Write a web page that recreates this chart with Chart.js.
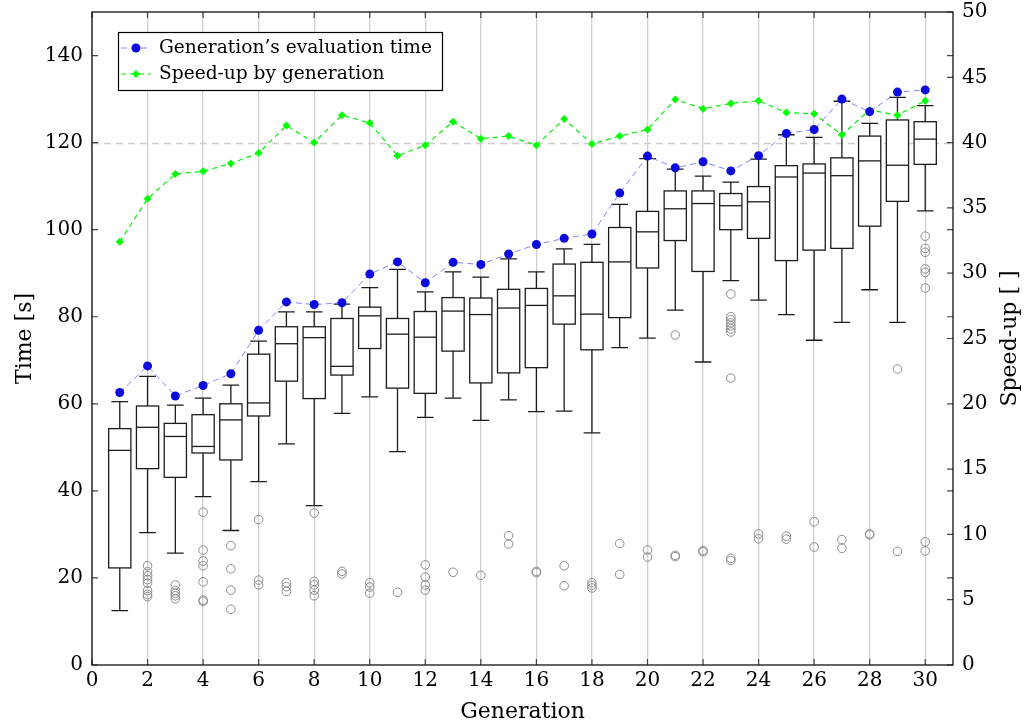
<!DOCTYPE html>
<html><head><meta charset="utf-8">
<script src="https://cdn.jsdelivr.net/npm/chart.js@4.4.1/dist/chart.umd.min.js"></script>
<style>html,body{margin:0;padding:0;background:#fff}#wrap{width:1027px;height:726px}</style>
</head><body><div id="wrap"><canvas id="c" width="1027" height="726"></canvas></div>
<script>
const gens = [1,2,3,4,5,6,7,8,9,10,11,12,13,14,15,16,17,18,19,20,21,22,23,24,25,26,27,28,29,30];
const whiskerLow  = [12.5,30.4,25.7,38.7,30.9,42.1,50.8,36.6,57.8,61.6,49.0,56.9,61.3,56.2,60.9,58.2,58.3,53.3,72.9,75.1,81.5,69.6,88.3,83.8,80.5,74.6,78.7,86.2,78.7,104.3];
const quartile1   = [22.3,45.1,43.1,48.7,47.1,57.2,65.2,61.2,66.6,72.7,63.6,62.4,72.1,64.8,67.1,68.3,78.3,72.4,79.8,91.2,97.5,90.4,100.0,98.0,92.9,95.3,95.7,100.8,106.5,115.0];
const medians     = [49.3,54.6,52.5,50.2,56.3,60.2,73.8,75.2,68.6,80.2,76.0,75.3,81.3,80.5,82.0,82.6,84.8,80.6,92.6,99.5,104.8,106.0,105.5,106.4,112.1,113.0,112.4,115.8,114.8,120.8];
const quartile3   = [54.3,59.5,55.5,57.5,60.0,71.4,77.7,77.7,79.6,82.2,79.6,81.2,84.4,84.3,86.3,86.5,92.1,92.5,100.5,104.2,108.9,108.9,108.3,109.9,114.7,115.1,116.5,121.5,125.2,124.8];
const whiskerHigh = [60.5,66.3,59.7,61.3,64.3,74.4,81.1,81.1,82.9,86.7,90.9,85.7,90.3,89.1,93.3,90.3,95.6,96.6,105.8,116.3,113.9,112.3,110.9,116.2,121.8,121.2,129.5,124.4,130.4,128.5];
const outliers = [
  [],
  [22.8,21.4,20.5,19.6,18.8,17.1,16.2,15.7],
  [18.4,17.1,16.5,15.9,15.2],
  [35.1,26.4,23.9,22.8,19.1,14.9,14.6],
  [27.4,22.1,17.2,12.8],
  [33.4,19.5,18.4],
  [18.9,18.0,16.9],
  [34.9,19.2,18.4,17.2,15.9],
  [21.5,20.9],
  [18.9,17.9,16.5],
  [16.7],
  [23.0,20.2,18.4,17.2],
  [21.3],
  [20.6],
  [29.7,27.8],
  [21.5,21.2],
  [22.8,18.2],
  [18.9,18.3,17.7],
  [27.9,20.8],
  [26.4,24.8],
  [75.8,25.2,24.9],
  [26.3,26.0],
  [85.2,80.0,79.3,78.6,77.9,77.2,76.5,65.9,24.5,24.0],
  [30.1,29.0],
  [29.6,28.9],
  [32.9,27.1],
  [28.8,26.8],
  [30.1,29.9],
  [68.0,26.1],
  [98.5,95.7,94.8,91.0,90.2,86.6,28.3,26.2]
];
const evalTime = [62.6,68.7,61.8,64.2,66.9,76.9,83.4,82.8,83.2,89.8,92.6,87.8,92.5,92.0,94.4,96.6,98.0,99.0,108.4,116.9,114.2,115.6,113.5,117.0,122.1,123.0,130.0,127.1,131.6,132.1];
const speedUp  = [32.4,35.7,37.6,37.8,38.4,39.2,41.3,40.0,42.1,41.5,39.0,39.8,41.6,40.3,40.5,39.8,41.8,39.9,40.5,41.0,43.3,42.6,43.0,43.2,42.3,42.2,40.6,42.5,42.1,43.2];
const refSpeedUp = 40;
const seriesLabels = ['Generation\u2019s evaluation time', 'Speed-up by generation'];
const rightTitle = 'Speed-up [ ]';
const xTicks = [0,2,4,6,8,10,12,14,16,18,20,22,24,26,28,30];
const yTicks = [0,20,40,60,80,100,120,140];
const y2Ticks = [0,5,10,15,20,25,30,35,40,45,50];

const FONT = 'DejaVu Serif';
const outlierPoints = [];
gens.forEach((g,i)=>outliers[i].forEach(v=>outlierPoints.push({x:g,y:v})));

const boxPlugin = {
  id:'boxes',
  beforeDatasetsDraw(chart){
    const {ctx, chartArea:a, scales:{x,y,y2}} = chart;
    ctx.save();
    ctx.beginPath(); ctx.rect(a.left,a.top,a.right-a.left,a.bottom-a.top); ctx.clip();
    ctx.strokeStyle='#cccccc'; ctx.lineWidth=1.3; ctx.setLineDash([7,5]);
    const ry = Math.round(y2.getPixelForValue(refSpeedUp))+0.5;
    ctx.beginPath(); ctx.moveTo(a.left,ry); ctx.lineTo(a.right,ry); ctx.stroke();
    ctx.setLineDash([]);
    ctx.strokeStyle='#1c1c1c'; ctx.lineWidth=1.3;
    gens.forEach((g,i)=>{
      const xc=x.getPixelForValue(g), xl=x.getPixelForValue(g-0.4), xr=x.getPixelForValue(g+0.4);
      const cl=x.getPixelForValue(g-0.3), cr=x.getPixelForValue(g+0.3);
      const pLo=y.getPixelForValue(whiskerLow[i]), pQ1=y.getPixelForValue(quartile1[i]);
      const pMd=y.getPixelForValue(medians[i]), pQ3=y.getPixelForValue(quartile3[i]);
      const pHi=y.getPixelForValue(whiskerHigh[i]);
      ctx.beginPath();
      ctx.moveTo(xc,pQ1); ctx.lineTo(xc,pLo);
      ctx.moveTo(cl,pLo); ctx.lineTo(cr,pLo);
      ctx.moveTo(xc,pQ3); ctx.lineTo(xc,pHi);
      ctx.moveTo(cl,pHi); ctx.lineTo(cr,pHi);
      ctx.stroke();
      ctx.fillStyle='#fff';
      ctx.fillRect(xl,pQ3,xr-xl,pQ1-pQ3);
      ctx.strokeRect(xl,pQ3,xr-xl,pQ1-pQ3);
      ctx.beginPath(); ctx.moveTo(xl,pMd); ctx.lineTo(xr,pMd); ctx.stroke();
    });
    ctx.restore();
  },
  afterDraw(chart){
    const {ctx, chartArea:a, scales:{x,y,y2}} = chart;
    ctx.save();
    ctx.strokeStyle='#444'; ctx.lineWidth=1.2;
    const tl=6;
    ctx.beginPath();
    xTicks.forEach(t=>{const px=x.getPixelForValue(t); ctx.moveTo(px,a.bottom); ctx.lineTo(px,a.bottom-tl); ctx.moveTo(px,a.top); ctx.lineTo(px,a.top+tl);});
    yTicks.forEach(t=>{const py=y.getPixelForValue(t); ctx.moveTo(a.left,py); ctx.lineTo(a.left+tl,py); ctx.moveTo(a.right,py); ctx.lineTo(a.right-tl,py);});
    y2Ticks.forEach(t=>{const py=y2.getPixelForValue(t); ctx.moveTo(a.right,py); ctx.lineTo(a.right-tl,py);});
    ctx.stroke();
    ctx.strokeStyle='#111'; ctx.lineWidth=1.3;
    ctx.strokeRect(a.left,a.top,a.right-a.left,a.bottom-a.top);
    ctx.save();
    ctx.translate(1010,(a.top+a.bottom)/2); ctx.rotate(-Math.PI/2);
    ctx.fillStyle='#000'; ctx.font='22px "'+FONT+'"'; ctx.textAlign='center'; ctx.textBaseline='middle';
    ctx.fillText(rightTitle,0,0);
    ctx.restore();
    const lx=118, ly=32, lw=324, lh=58;
    ctx.fillStyle='#fff'; ctx.fillRect(lx,ly,lw,lh);
    ctx.strokeStyle='#000'; ctx.lineWidth=1.2; ctx.strokeRect(lx+0.5,ly+0.5,lw,lh);
    const ds = chart.data.datasets;
    [[ds[1],48],[ds[2],74]].forEach(([d,cy])=>{
      ctx.strokeStyle=d.borderColor; ctx.lineWidth=d.borderWidth; ctx.setLineDash(d.borderDash);
      ctx.beginPath(); ctx.moveTo(121,cy); ctx.lineTo(151,cy); ctx.stroke(); ctx.setLineDash([]);
      ctx.fillStyle=d.pointBackgroundColor;
      ctx.beginPath();
      if(d.pointStyle==='rectRot'){ const r=d.pointRadius; ctx.moveTo(136,cy-r); ctx.lineTo(136+r,cy); ctx.lineTo(136,cy+r); ctx.lineTo(136-r,cy); ctx.closePath(); }
      else { ctx.arc(136,cy,d.pointRadius,0,Math.PI*2); }
      ctx.fill();
      ctx.fillStyle='#000'; ctx.font='18.6px "'+FONT+'"'; ctx.textBaseline='middle'; ctx.textAlign='left';
      ctx.fillText(d.label,159,cy);
    });
    ctx.restore();
  }
};

const noPadV = s=>{ s.paddingTop=0; s.paddingBottom=0; };

new Chart(document.getElementById('c'), {
  data:{datasets:[
    {type:'scatter', label:'outliers', data:outlierPoints, yAxisID:'y', pointStyle:'circle', pointRadius:4.3, borderWidth:1, borderColor:'#8c8c8c', backgroundColor:'rgba(0,0,0,0)', pointBackgroundColor:'rgba(0,0,0,0)'},
    {type:'line', label:seriesLabels[0], data:gens.map((g,i)=>({x:g,y:evalTime[i]})), yAxisID:'y', borderColor:'rgba(100,100,255,0.8)', borderDash:[6,4], borderWidth:1, pointStyle:'circle', pointRadius:4.5, pointBackgroundColor:'#0a0adc', pointBorderColor:'#0a0adc', pointBorderWidth:0, tension:0, fill:false},
    {type:'line', label:seriesLabels[1], data:gens.map((g,i)=>({x:g,y:speedUp[i]})), yAxisID:'y2', borderColor:'#00f000', borderDash:[5,4], borderWidth:1.2, pointStyle:'rectRot', pointRadius:4, pointBackgroundColor:'#00ff00', pointBorderColor:'#00ff00', pointBorderWidth:0, tension:0, fill:false}
  ]},
  options:{
    responsive:false, animation:false, devicePixelRatio:1,
    layout:{padding:{top:12,left:0,right:0,bottom:0}},
    plugins:{legend:{display:false}, tooltip:{enabled:false}},
    scales:{
      x:{type:'linear', position:'bottom', min:0, max:31,
        afterBuildTicks:s=>{s.ticks=xTicks.map(v=>({value:v}));},
        ticks:{includeBounds:false, autoSkip:false, maxRotation:0, padding:4, color:'#000', font:{family:FONT,size:20}},
        grid:{color:'#d0d0d0', lineWidth:1.3, drawTicks:false},
        border:{display:false},
        title:{display:true, text:'Generation', color:'#000', font:{family:FONT,size:22}, padding:{top:0,bottom:1}},
        afterFit:s=>{s.height=61; s.paddingLeft=0; s.paddingRight=0;}
      },
      y:{type:'linear', position:'left', min:0, max:150,
        afterBuildTicks:s=>{s.ticks=yTicks.map(v=>({value:v}));},
        ticks:{includeBounds:false, padding:9, color:'#000', font:{family:FONT,size:20}},
        grid:{display:false, drawTicks:false}, border:{display:false},
        title:{display:true, text:'Time [s]', color:'#000', font:{family:FONT,size:22}, padding:{top:12,bottom:0}},
        afterFit:s=>{s.width=92; noPadV(s);}
      },
      y2:{type:'linear', position:'right', min:0, max:50,
        afterBuildTicks:s=>{s.ticks=y2Ticks.map(v=>({value:v}));},
        ticks:{includeBounds:false, padding:9, color:'#000', font:{family:FONT,size:20}},
        grid:{display:false, drawTicks:false}, border:{display:false},
        title:{display:false},
        afterFit:s=>{s.width=74; noPadV(s);}
      }
    }
  },
  plugins:[boxPlugin]
});
</script></body></html>
